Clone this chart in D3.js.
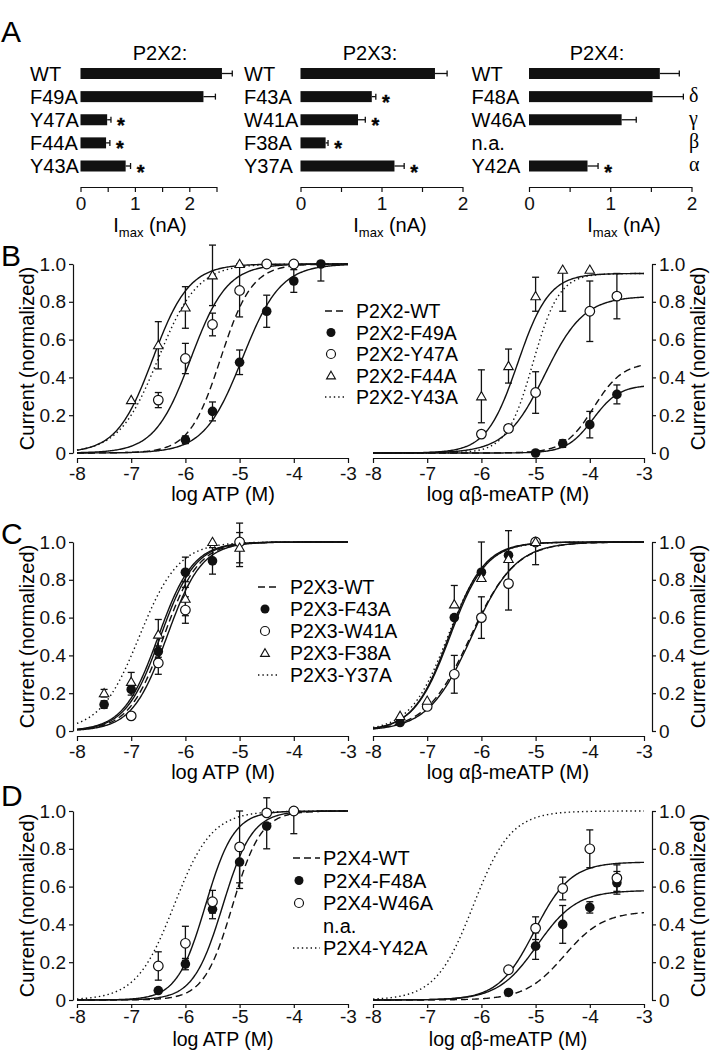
<!DOCTYPE html>
<html><head><meta charset="utf-8">
<script src="https://cdn.jsdelivr.net/npm/d3@7"></script>
<style>
body{margin:0;background:#fff;}
svg{display:block;font-family:"Liberation Sans",Arial,Helvetica,sans-serif;}
</style></head><body>
<svg id="c" width="711" height="1050"></svg>
<script>
// ---------------- DATA ----------------
// Panel A: Imax (nA)
const p2x2Labels = ["WT","F49A","Y47A","F44A","Y43A"];
const p2x2Imax   = [2.60, 2.26, 0.49, 0.47, 0.83];
const p2x2Err    = [0.19, 0.22, 0.07, 0.07, 0.09];
const p2x2Sig    = [false,false,true,true,true];
const p2x2Ticks  = [0,0.5,1,1.5,2,2.5];

const p2x3Labels = ["WT","F43A","W41A","F38A","Y37A"];
const p2x3Imax   = [1.66, 0.88, 0.71, 0.31, 1.16];
const p2x3Err    = [0.15, 0.05, 0.09, 0.03, 0.12];
const p2x3Sig    = [false,true,true,true,true];
const p2x3Ticks  = [0,0.5,1,1.5,2];

const p2x4Labels = ["WT","F48A","W46A","n.a.","Y42A"];
const p2x4Imax   = [1.61, 1.52, 1.14, null, 0.72];
const p2x4Err    = [0.24, 0.38, 0.18, null, 0.13];
const p2x4Sig    = [false,false,false,false,true];
const p2x4Greek  = ["","δ","γ","β","α"];
const p2x4Ticks  = [0,0.5,1,1.5,2];

// Concentration-response: log concentration axis
const logTicks = [-8,-7,-6,-5,-4,-3];
const normTicks = [0,0.2,0.4,0.6,0.8,1.0];

// Hill fit parameters: EC50 (log M), Hill slope, top
// points: [log conc, normalized current, error down, error up]
const bNames = ["P2X2-WT","P2X2-F49A","P2X2-Y47A","P2X2-F44A","P2X2-Y43A"];
const bAtpEC50 = [-5.35,-4.95,-5.90,-6.60,-6.50];
const bAtpHill = [1.50, 1.23, 1.30, 1.30, 1.20];
const bAtpTop  = [1, 1, 1, 1, 1];
const bAtpPts = [
  [],
  [[-6,0.07,0.02,0.02],[-5.5,0.22,0.05,0.05],[-5,0.48,0.065,0.065],[-4.5,0.75,0.085,0.085],[-4,0.91,0.06,0.06],[-3.5,1.0,0.09,0]],
  [[-6.5,0.28,0.04,0.04],[-6,0.50,0.08,0.08],[-5.5,0.68,0.06,0.06],[-5,0.86,0.14,0.14],[-4.5,1.0,0,0],[-4,1.0,0,0]],
  [[-7,0.28,0,0],[-6.5,0.57,0.125,0.125],[-6,0.77,0.11,0.11],[-5.5,0.94,0.16,0.16],[-5,1.0,0,0]],
  []
];
const bMeEC50 = [-3.93,-3.94,-4.83,-5.33,-5.05];
const bMeHill = [1.62, 1.80, 1.20, 1.50, 1.80];
const bMeTop  = [0.48, 0.36, 0.83, 0.95, 0.95];
const bMePts = [
  [],
  [[-5,0.0,0,0],[-4.5,0.05,0.02,0.02],[-4,0.15,0.07,0.07],[-3.5,0.31,0.05,0.05]],
  [[-6,0.10,0,0],[-5.5,0.13,0.02,0.02],[-5,0.32,0.11,0.11],[-4,0.75,0.16,0.16],[-3.5,0.83,0.12,0.12]],
  [[-6,0.30,0.14,0.14],[-5.5,0.46,0.09,0.09],[-5,0.83,0.08,0.10],[-4.5,0.97,0.22,0],[-4,0.97,0,0]],
  []
];

const cNames = ["P2X3-WT","P2X3-F43A","P2X3-W41A","P2X3-F38A","P2X3-Y37A"];
const cAtpEC50 = [-6.40,-6.50,-6.34,-6.46,-6.85];
const cAtpHill = [1.35, 1.35, 1.35, 1.35, 1.20];
const cAtpTop  = [1, 1, 1, 1, 1];
const cAtpPts = [
  [],
  [[-7.5,0.14,0.02,0.02],[-7,0.22,0.03,0.03],[-6.5,0.42,0.03,0.03],[-6,0.84,0.08,0.08],[-5.5,0.90,0.07,0.07],[-5,1.0,0,0]],
  [[-7,0.08,0,0],[-6.5,0.36,0.06,0.06],[-6,0.64,0.07,0.07],[-5,1.0,0.13,0.10]],
  [[-7.5,0.20,0.02,0.02],[-7,0.26,0.05,0.05],[-6.5,0.51,0.08,0.08],[-6,0.70,0.09,0.09],[-5.5,1.0,0,0],[-5,0.97,0.08,0.08]],
  []
];
const cMeEC50 = [-6.20,-6.60,-6.18,-6.58,-6.62];
const cMeHill = [1.05, 1.32, 1.08, 1.30, 1.25];
const cMeTop  = [1, 1, 1, 1, 1];
const cMePts = [
  [],
  [[-7.5,0.045,0,0],[-6.5,0.60,0,0],[-6,0.84,0,0],[-5.5,0.93,0.13,0.13],[-5,1.0,0,0]],
  [[-7,0.13,0,0],[-6.5,0.30,0.10,0.10],[-6,0.60,0.11,0.11],[-5.5,0.78,0.14,0.14],[-5,1.0,0.12,0]],
  [[-7.5,0.08,0,0],[-7,0.16,0,0],[-6.5,0.67,0,0.10],[-6,0.81,0,0.19],[-5.5,0.91,0,0],[-5,1.0,0,0]],
  []
];

const dNames = ["P2X4-WT","P2X4-F48A","P2X4-W46A","n.a.","P2X4-Y42A"];
const dAtpEC50 = [-5.13,-5.31,-5.63,null,-6.21];
const dAtpHill = [1.65, 1.60, 1.65, null, 1.25];
const dAtpTop  = [1, 1, 1, null, 1];
const dAtpPts = [
  [],
  [[-6.5,0.05,0,0],[-6,0.19,0.03,0.03],[-5.5,0.48,0.05,0.05],[-5,0.73,0.14,0],[-4.5,0.92,0.12,0],[-4,1.0,0,0]],
  [[-6.5,0.18,0.075,0.075],[-6,0.30,0.09,0.09],[-5.5,0.52,0.06,0.06],[-5,0.81,0.19,0.19],[-4.5,0.99,0,0.08],[-4,1.0,0.12,0]],
  [],
  []
];
const dMeEC50 = [-4.47,-4.97,-5.02,null,-6.15];
const dMeHill = [1.20, 1.20, 1.30, null, 1.25];
const dMeTop  = [0.47, 0.58, 0.73, null, 1];
const dMePts = [
  [],
  [[-5.5,0.04,0,0],[-5,0.285,0.07,0.07],[-4.5,0.40,0.10,0.10],[-4,0.49,0.03,0.03],[-3.5,0.62,0.06,0.06]],
  [[-5.5,0.16,0,0],[-5,0.38,0.06,0.06],[-4.5,0.59,0.06,0.06],[-4,0.80,0.10,0.10],[-3.5,0.645,0.07,0.07]],
  [],
  []
];

// ---------------- DRAWING ----------------
const svg = d3.select("#c");
const FS = 20;   // labels, legends, titles
const TFS = 19;  // tick labels

// panel letters
[["A",42],["B",266],["C",544],["D",806]].forEach(([t,yb])=>{
  svg.append("text").attr("x",1).attr("y",yb).attr("font-size",30).text(t);
});

// ---------- Panel A ----------
const A_AXIS_Y = 187;
function barGroup(o){
  const g = svg.append("g");
  const x = d3.scaleLinear().domain([0, d3.max(o.ticks)]).range(o.range);
  const y = d3.scalePoint().domain(d3.range(o.labels.length)).range([73.5,166]);
  const bh = 11;
  g.append("text").attr("x",o.titleX).attr("y",60).attr("text-anchor","middle")
    .attr("font-size",FS).text(o.title);
  o.labels.forEach((lab,i)=>{
    const yc = y(i);
    g.append("text").attr("x",o.labelX).attr("y",yc+7).attr("font-size",FS).text(lab);
    const v = o.vals[i];
    if(v!=null){
      g.append("rect").attr("x",x(0)).attr("y",yc-bh/2).attr("width",x(v)-x(0)).attr("height",bh).attr("fill","#111");
      const xe = x(v+o.errs[i]);
      g.append("line").attr("x1",x(v)).attr("x2",xe).attr("y1",yc).attr("y2",yc).attr("stroke","#111").attr("stroke-width",1.3);
      g.append("line").attr("x1",xe).attr("x2",xe).attr("y1",yc-3).attr("y2",yc+3).attr("stroke","#111").attr("stroke-width",1.3);
      if(o.sig[i]){
        g.append("text").attr("x",xe+10).attr("y",yc+12.5).attr("text-anchor","middle")
          .attr("font-size",20).attr("font-weight","bold").attr("stroke","#111").attr("stroke-width",0.4).text("*");
      }
    }
    if(o.greek && o.greek[i]){
      g.append("text").attr("x",689).attr("y",yc+5).attr("font-size",FS)
        .attr("font-family","'Liberation Serif','Times New Roman',serif").text(o.greek[i]);
    }
  });
  const ax = d3.axisBottom(x).tickValues(o.ticks).tickSize(5).tickSizeOuter(0).tickPadding(5)
    .tickFormat(d=> Number.isInteger(d) ? String(d) : "");
  const ag = g.append("g").attr("transform",`translate(0,${A_AXIS_Y})`).call(ax);
  ag.selectAll("path,line").attr("stroke","#111").attr("stroke-width",1.2);
  ag.selectAll("text").attr("font-size",TFS).attr("font-family","'Liberation Sans',Arial,sans-serif").attr("fill","#111");
  const t = g.append("text").attr("x",o.xTitleX).attr("y",A_AXIS_Y+45).attr("text-anchor","middle").attr("font-size",FS);
  t.append("tspan").text("I");
  t.append("tspan").attr("font-size",13).attr("dy",5).text("max");
  t.append("tspan").attr("dy",-5).text(" (nA)");
}
barGroup({labels:p2x2Labels, vals:p2x2Imax, errs:p2x2Err, sig:p2x2Sig, ticks:p2x2Ticks,
  range:[80.5,216.5], labelX:30, title:"P2X2:", titleX:160, xTitleX:150});
barGroup({labels:p2x3Labels, vals:p2x3Imax, errs:p2x3Err, sig:p2x3Sig, ticks:p2x3Ticks,
  range:[300.5,462.5], labelX:244, title:"P2X3:", titleX:370, xTitleX:390});
barGroup({labels:p2x4Labels, vals:p2x4Imax, errs:p2x4Err, sig:p2x4Sig, ticks:p2x4Ticks,
  range:[529,691.5], labelX:471.5, title:"P2X4:", titleX:597, xTitleX:624, greek:p2x4Greek});

// ---------- Concentration-response panels ----------
function hill(xv,e,n,t){ return t/(1+Math.pow(10,n*(e-xv))); }
const dashFor = i => i===0 ? "7,4" : (i===4 ? "1.4,3" : null);

function marker(g, i, cx, cy, r){
  if(i===1){
    g.append("circle").attr("cx",cx).attr("cy",cy).attr("r",r).attr("fill","#111");
  } else if(i===2){
    g.append("circle").attr("cx",cx).attr("cy",cy).attr("r",r).attr("fill","#fff").attr("stroke","#111").attr("stroke-width",1.2);
  } else if(i===3){
    g.append("path").attr("d",d3.symbol(d3.symbolTriangle, r*r*1.7)())
      .attr("transform",`translate(${cx},${cy+0.8})`).attr("fill","#fff").attr("stroke","#111").attr("stroke-width",1.1);
  }
}

function crPlot(o){
  const g = svg.append("g");
  const x = d3.scaleLinear().domain([-8,-3]).range(o.side==="left"?[77,348]:[373,644]);
  const y = d3.scaleLinear().domain([0,1]).range([o.y0,o.y0-189]);
  const xs = d3.range(-8,-2.999,0.02);
  o.ec50.forEach((e,i)=>{
    if(e==null) return;
    const line = d3.line().x(d=>x(d)).y(d=>y(hill(d,e,o.hill[i],o.top[i])));
    const p = g.append("path").attr("d",line(xs)).attr("fill","none").attr("stroke","#111").attr("stroke-width",1.4);
    if(dashFor(i)) p.attr("stroke-dasharray",dashFor(i));
  });
  // error bars
  o.pts.forEach((arr,i)=>{
    arr.forEach(p=>{
      const cx = x(p[0]);
      [[p[2],-1],[p[3],1]].forEach(([e,s])=>{
        if(e>0){
          const ye = y(p[1]+s*e);
          g.append("line").attr("x1",cx).attr("x2",cx).attr("y1",y(p[1])).attr("y2",ye).attr("stroke","#111").attr("stroke-width",1.3);
          g.append("line").attr("x1",cx-3.5).attr("x2",cx+3.5).attr("y1",ye).attr("y2",ye).attr("stroke","#111").attr("stroke-width",1.3);
        }
      });
    });
  });
  o.pts.forEach((arr,i)=>{ arr.forEach(p=> marker(g,i,x(p[0]),y(p[1]),4.8)); });
  // axes
  const bottomRow = o.y0 > 900;
  const xa = d3.axisBottom(x).tickValues(logTicks).tickSize(bottomRow?4:5).tickSizeOuter(0)
    .tickPadding(bottomRow?2:4).tickFormat(d=>String(d));
  const xg = g.append("g").attr("transform",`translate(0,${o.y0+(bottomRow?4:5)})`).call(xa);
  let ya, yx, lx;
  if(o.side==="left"){ ya = d3.axisLeft(y); yx = 73; lx = 27; }
  else { ya = d3.axisRight(y); yx = 652; lx = 698; }
  ya.tickValues(normTicks).tickSize(4).tickSizeOuter(0).tickPadding(3).tickFormat(d=> d===0 ? "0" : d3.format(".1f")(d));
  const yg = g.append("g").attr("transform",`translate(${yx},0)`).call(ya);
  [xg,yg].forEach(a=>{
    a.selectAll("path,line").attr("stroke","#111").attr("stroke-width",1.2);
    a.selectAll("text").attr("font-size",TFS).attr("font-family","'Liberation Sans',Arial,sans-serif").attr("fill","#111");
  });
  g.append("text").attr("x",o.side==="left"?223:508).attr("y",bottomRow?1045.8:o.y0+48).attr("text-anchor","middle")
    .attr("font-size",bottomRow?19.5:FS).text(o.xlabel);
  g.append("text").attr("transform",`translate(${lx},${o.y0-94.5}) rotate(-90)`).attr("text-anchor","middle")
    .attr("dy","0.35em").attr("font-size",FS).text("Current (normalized)");
}

function legend(names, rows, lineX0, lineX1, symX, textX, fs){
  const g = svg.append("g");
  names.forEach((n,i)=>{
    const yc = rows[i];
    if(i===0 || i===4){
      g.append("line").attr("x1",lineX0).attr("x2",lineX1).attr("y1",yc).attr("y2",yc)
        .attr("stroke","#111").attr("stroke-width",1.4).attr("stroke-dasharray",dashFor(i));
    } else if(n!=="n.a."){
      marker(g,i,symX,yc,4.5);
    }
    g.append("text").attr("x",textX).attr("y",yc+7).attr("font-size",fs).text(n);
  });
}

const atpLabel = "log ATP (M)";
const meLabel = "log αβ-meATP (M)";

crPlot({side:"left", y0:453, ec50:bAtpEC50, hill:bAtpHill, top:bAtpTop, pts:bAtpPts, xlabel:atpLabel});
crPlot({side:"right", y0:453, ec50:bMeEC50, hill:bMeHill, top:bMeTop, pts:bMePts, xlabel:meLabel});
legend(bNames, [311,332.5,354,375.5,397], 325,347,331,356, 19.5);

crPlot({side:"left", y0:731, ec50:cAtpEC50, hill:cAtpHill, top:cAtpTop, pts:cAtpPts, xlabel:atpLabel});
crPlot({side:"right", y0:731, ec50:cMeEC50, hill:cMeHill, top:cMeTop, pts:cMePts, xlabel:meLabel});
legend(cNames, [587,609,631,653,675], 258,280,265,290, 19.5);

crPlot({side:"left", y0:1000, ec50:dAtpEC50, hill:dAtpHill, top:dAtpTop, pts:dAtpPts, xlabel:atpLabel});
crPlot({side:"right", y0:1000, ec50:dMeEC50, hill:dMeHill, top:dMeTop, pts:dMePts, xlabel:meLabel});
legend(dNames, [858,880.5,903,925.5,948], 293,320,299,323, FS);
</script>
</body></html>
